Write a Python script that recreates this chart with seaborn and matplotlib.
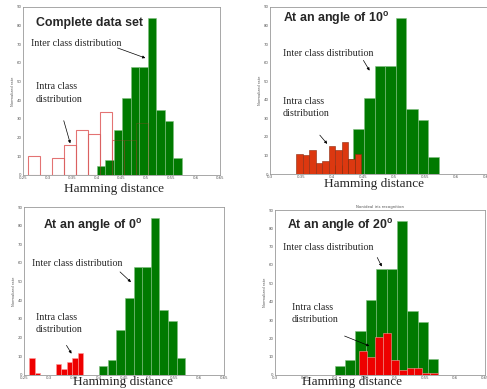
import numpy as np
import pandas as pd
import matplotlib
matplotlib.use("Agg")
import matplotlib.pyplot as plt
import seaborn as sns

# inter class (impostor) hamming distances - same in every panel
inter_edges = [0.400, 0.417, 0.434, 0.452, 0.469, 0.486, 0.503, 0.520, 0.538, 0.555, 0.572]
inter_counts = [5, 8, 24, 41, 58, 58, 84, 35, 29, 9]

# intra class (genuine) distributions per angle
intra_all_edges = [0.261, 0.285, 0.309, 0.334, 0.358, 0.382, 0.406, 0.431, 0.455, 0.479, 0.504]
intra_all_counts = [10, 0, 9, 16, 24, 22, 34, 19, 19, 28]

intra_10_edges = [0.342, 0.3525, 0.363, 0.3735, 0.384, 0.3945, 0.405, 0.4155, 0.426, 0.4365, 0.447]
intra_10_counts = [11, 10, 13, 6, 7, 15, 13, 17, 8, 11]

intra_0_edges = [0.2607, 0.2714, 0.2821, 0.2928, 0.3035, 0.3142, 0.3249, 0.3356, 0.3463, 0.357, 0.3677]
intra_0_counts = [9, 1, 0, 0, 0, 6, 3, 7, 9, 12]

intra_20_edges = [0.440, 0.4532, 0.4664, 0.4796, 0.4928, 0.506, 0.5192, 0.5324, 0.5456, 0.5588, 0.572]
intra_20_counts = [13, 10, 21, 23, 8, 3, 4, 4, 1, 1]

x_ticks_wide = [0.25, 0.3, 0.35, 0.4, 0.45, 0.5, 0.55, 0.6, 0.65]
x_ticks_narrow = [0.3, 0.35, 0.4, 0.45, 0.5, 0.55, 0.6, 0.65]
y_ticks = [0, 10, 20, 30, 40, 50, 60, 70, 80, 90]

W, H = 487, 389
GREEN = "#007a00"


def hist_df(edges, counts):
    edges = np.asarray(edges)
    return pd.DataFrame({"hd": (edges[:-1] + edges[1:]) / 2, "n": counts})


def px(x, y):
    # pixel coords (from top-left) -> figure fraction
    return x / W, 1 - y / H


def make_ax(fig, left, top, right, bottom, xlim, xticks):
    l, t = px(left, top)
    r, b = px(right, bottom)
    ax = fig.add_axes([l, b, r - l, t - b])
    ax.set_xlim(*xlim)
    ax.set_ylim(0, 90)
    ax.set_xticks(xticks)
    ax.set_xticklabels([f"{v:g}" for v in xticks])
    ax.set_yticks(y_ticks)
    ax.tick_params(labelsize=2.8, length=1.5, width=0.4, direction="in", pad=1, colors="#555555")
    for s in ax.spines.values():
        s.set_color("#999999")
        s.set_linewidth(0.6)
    return ax


def labels(fig, title, tpos, inter_pos, inter_arrow, intra_pos, intra_arrow, hd_pos):
    fig.text(*px(*tpos), title, fontsize=8.9, fontweight="bold", family="Liberation Sans", va="center")
    fig.text(*px(*inter_pos), "Inter class distribution", fontsize=7.2, family="Liberation Serif", va="center")
    fig.text(*px(*intra_pos), "Intra class\ndistribution", fontsize=7.2, family="Liberation Serif",
             va="top", linespacing=1.5)
    for (x0, y0, x1, y1) in (inter_arrow, intra_arrow):
        fig.add_artist(matplotlib.patches.FancyArrowPatch(
            px(x0, y0), px(x1, y1), transform=fig.transFigure, arrowstyle="-|>",
            mutation_scale=4, lw=0.5, color="black"))
    fig.text(*px(*hd_pos), "Hamming distance", fontsize=9.5, family="Liberation Serif",
             ha="center", va="center")


sns.set_style("white")
fig = plt.figure(figsize=(W / 100, H / 100), dpi=100)
fig.patch.set_facecolor("white")

inter = hist_df(inter_edges, inter_counts)

# ---- complete data set
ax1 = make_ax(fig, 23, 7, 220, 175, (0.25, 0.65), x_ticks_wide)
d = hist_df(intra_all_edges, intra_all_counts)
sns.histplot(data=d, x="hd", weights="n", bins=intra_all_edges, fill=False,
             color="#f08a8a", linewidth=0.8, ax=ax1)
sns.histplot(data=inter, x="hd", weights="n", bins=inter_edges, color=GREEN, alpha=1,
             edgecolor="#7fbf7f", linewidth=0.4, ax=ax1)
sns.histplot(data=d, x="hd", weights="n", bins=intra_all_edges, fill=False,
             color="#c03030", alpha=0.3, linewidth=0.6, ax=ax1)
labels(fig, "Complete data set", (36, 23), (31, 43), (115, 47, 148, 59),
       (36, 82), (63, 118, 71, 146), (114, 189))

# ---- 10 degrees
ax2 = make_ax(fig, 270, 7, 487, 174, (0.3, 0.65), x_ticks_narrow)
sns.histplot(data=inter, x="hd", weights="n", bins=inter_edges, color=GREEN, alpha=1,
             edgecolor="#7fbf7f", linewidth=0.4, ax=ax2)
d = hist_df(intra_10_edges, intra_10_counts)
sns.histplot(data=d, x="hd", weights="n", bins=intra_10_edges, color="#dc3810", alpha=1,
             edgecolor="#8a2a10", linewidth=0.4, ax=ax2)
labels(fig, "At an angle of 10$^{\\mathregular{o}}$", (283, 19), (283, 53), (362, 58, 371, 73),
       (283, 97), (318, 133, 329, 146), (374, 184))

# ---- 0 degrees
ax3 = make_ax(fig, 24, 207, 224, 375, (0.25, 0.65), x_ticks_wide)
sns.histplot(data=inter, x="hd", weights="n", bins=inter_edges, color=GREEN, alpha=1,
             edgecolor="#7fbf7f", linewidth=0.4, ax=ax3)
d = hist_df(intra_0_edges, intra_0_counts)
sns.histplot(data=d, x="hd", weights="n", bins=intra_0_edges, color="#ee0000", alpha=1,
             edgecolor="#ff9a9a", linewidth=0.4, ax=ax3)
labels(fig, "At an angle of 0$^{\\mathregular{o}}$", (43, 225), (32, 264), (118, 270, 133, 284),
       (36, 313), (65, 343, 73, 356), (123, 382))

# ---- 20 degrees
ax4 = make_ax(fig, 275, 210, 485, 375, (0.3, 0.65), x_ticks_narrow)
sns.histplot(data=inter, x="hd", weights="n", bins=inter_edges, color=GREEN, alpha=1,
             edgecolor="#7fbf7f", linewidth=0.4, ax=ax4)
d = hist_df(intra_20_edges, intra_20_counts)
sns.histplot(data=d, x="hd", weights="n", bins=intra_20_edges, color="#ee0000", alpha=1,
             edgecolor="#ff9a9a", linewidth=0.4, ax=ax4)
ax4.set_title("Nonideal iris recognition", fontsize=2.8, pad=1.5, color="#555555")
labels(fig, "At an angle of 20$^{\\mathregular{o}}$", (287, 225), (283, 248), (376, 255, 383, 269),
       (292, 303), (342, 335, 372, 347), (352, 382))

for ax in (ax1, ax2, ax3, ax4):
    ax.set_ylabel("Normalized rate", fontsize=2.6, labelpad=1, color="#555555")
    ax.set_xlabel("")

fig.savefig("out.png", dpi=100, facecolor="white")
